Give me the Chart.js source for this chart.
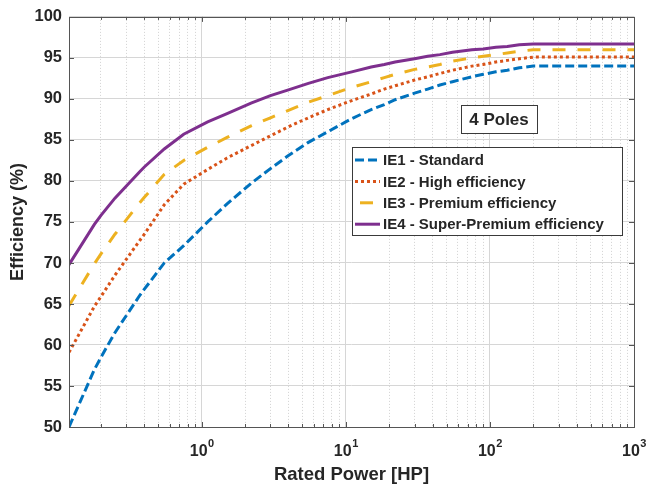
<!DOCTYPE html>
<html>
<head>
<meta charset="utf-8">
<script src="https://cdn.jsdelivr.net/npm/chart.js@4.4.1/dist/chart.umd.min.js"></script>
<style>
  html, body { margin: 0; padding: 0; background: #fff; }
</style>
</head>
<body>
<canvas id="effChart" width="649" height="488"></canvas>
<script>
// Rated power points (HP) and efficiency (%) of each class, 4 poles
const powerHP = [0.12, 0.18, 0.2, 0.25, 0.37, 0.4, 0.55, 0.75, 1.1, 1.5, 2.2, 3, 4, 5.5, 7.5,
                 11, 15, 18.5, 22, 30, 37, 45, 55, 75, 90, 110, 132, 160, 200, 1000];
const ie1 = [50.0, 57.0, 58.5, 61.5, 66.0, 66.8, 70.0, 72.1, 75.0, 77.2, 79.7, 81.5, 83.1, 84.7, 86.0,
             87.6, 88.7, 89.3, 89.9, 90.7, 91.2, 91.7, 92.1, 92.7, 93.0, 93.3, 93.5, 93.8, 94.0, 94.0];
const ie2 = [59.1, 64.7, 65.9, 68.5, 72.7, 73.5, 77.1, 79.6, 81.4, 82.8, 84.3, 85.5, 86.6, 87.7, 88.7,
             89.8, 90.6, 91.2, 91.6, 92.3, 92.7, 93.1, 93.5, 94.0, 94.2, 94.5, 94.7, 94.9, 95.1, 95.1];
const ie3 = [64.8, 69.9, 71.1, 73.5, 77.3, 78.0, 80.8, 82.5, 84.1, 85.3, 86.7, 87.7, 88.6, 89.6, 90.4,
             91.4, 92.1, 92.6, 93.0, 93.6, 93.9, 94.2, 94.6, 95.0, 95.2, 95.4, 95.6, 95.8, 96.0, 96.0];
const ie4 = [69.8, 74.7, 75.8, 77.9, 81.1, 81.7, 83.9, 85.7, 87.2, 88.2, 89.5, 90.4, 91.1, 91.9, 92.6,
             93.3, 93.9, 94.2, 94.5, 94.9, 95.2, 95.4, 95.7, 96.0, 96.1, 96.3, 96.4, 96.6, 96.7, 96.7];
const seriesLabels = ['IE1 - Standard', 'IE2 - High efficiency', 'IE3 - Premium efficiency', 'IE4 - Super-Premium efficiency'];
const decadeTicks = [1, 10, 100, 1000];
const decadeExponents = ['0', '1', '2', '3'];
const boxText = '4 Poles';

const FONT = 'Liberation Sans, Arial, Helvetica, sans-serif';
const TEXT = '#262626';
const colors = ['#0072BD', '#D95319', '#EDB120', '#7E2F8E'];
const dashes = [[9, 4], [3, 3], [13, 12], []];
const legendOffsets = [0, 0, 20, 0];

// log grid positions: 2..9 of each decade plus the decades
const gridValues = [];
[0.1, 1, 10, 100].forEach(d => {
    for (let k = (d === 0.1 ? 2 : 1); k <= 9; k++) gridValues.push(+(k * d).toPrecision(3));
});
gridValues.push(1000);

function toPoints(values) {
    return values.map((v, i) => ({ x: powerHP[i], y: v }));
}

const series = [ie1, ie2, ie3, ie4];
const datasets = series.map((s, i) => ({
    label: seriesLabels[i],
    data: toPoints(s),
    borderColor: colors[i],
    backgroundColor: colors[i],
    borderWidth: 3,
    borderDash: dashes[i],
    pointRadius: 0,
    tension: 0,
    fill: false
}));
// draw IE4 on top, like the original plot order
datasets.reverse();

const framePlugin = {
    id: 'frame',
    afterDraw(chart) {
        const { ctx, chartArea: a, scales: { x, y } } = chart;
        ctx.save();
        // inward ticks on all four sides
        ctx.strokeStyle = '#555';
        ctx.lineWidth = 1;
        ctx.beginPath();
        y.ticks.forEach(t => {
            const py = Math.round(y.getPixelForValue(t.value)) + 0.5;
            ctx.moveTo(a.left, py); ctx.lineTo(a.left + 5, py);
            ctx.moveTo(a.right, py); ctx.lineTo(a.right - 5, py);
        });
        x.ticks.forEach(t => {
            const px = Math.round(x.getPixelForValue(t.value)) + 0.5;
            const len = t.major ? 5 : 3;
            ctx.moveTo(px, a.bottom); ctx.lineTo(px, a.bottom - len);
            ctx.moveTo(px, a.top); ctx.lineTo(px, a.top + len);
        });
        ctx.stroke();
        ctx.strokeRect(Math.round(a.left) + 0.5, Math.round(a.top) + 0.5,
                       Math.round(a.right - a.left), Math.round(a.bottom - a.top));

        // x tick labels 10^n
        ctx.fillStyle = TEXT;
        ctx.textBaseline = 'alphabetic';
        ctx.textAlign = 'left';
        decadeTicks.forEach((v, i) => {
            const px = x.getPixelForValue(v);
            ctx.font = 'bold 16px ' + FONT;
            const w1 = ctx.measureText('10').width;
            ctx.font = 'bold 11px ' + FONT;
            const w2 = ctx.measureText(decadeExponents[i]).width;
            const start = px - (w1 + w2) / 2;
            ctx.font = 'bold 16px ' + FONT;
            ctx.fillText('10', start, 456);
            ctx.font = 'bold 11px ' + FONT;
            ctx.fillText(decadeExponents[i], start + w1 + 0.5, 447);
        });

        // "4 Poles" box
        ctx.fillStyle = '#fff';
        ctx.fillRect(461, 105, 76, 28);
        ctx.strokeStyle = '#3a3a3a';
        ctx.strokeRect(461.5, 105.5, 76, 28);
        ctx.fillStyle = TEXT;
        ctx.font = 'bold 17px ' + FONT;
        ctx.textAlign = 'center';
        ctx.textBaseline = 'middle';
        ctx.fillText(boxText, 499, 120);

        // legend
        ctx.fillStyle = '#fff';
        ctx.fillRect(352, 147, 270, 88);
        ctx.strokeStyle = '#3a3a3a';
        ctx.strokeRect(352.5, 147.5, 270, 88);
        ctx.font = 'bold 15px ' + FONT;
        ctx.textAlign = 'left';
        seriesLabels.forEach((lab, i) => {
            const cy = 160 + i * 21.4;
            ctx.save();
            ctx.strokeStyle = colors[i];
            ctx.lineWidth = 3;
            ctx.setLineDash(dashes[i]);
            ctx.lineDashOffset = legendOffsets[i];
            ctx.beginPath();
            ctx.moveTo(355, cy);
            ctx.lineTo(380, cy);
            ctx.stroke();
            ctx.restore();
            ctx.fillStyle = TEXT;
            ctx.fillText(lab, 383, cy + 1);
        });
        ctx.restore();
    }
};

new Chart(document.getElementById('effChart'), {
    type: 'line',
    data: { datasets: datasets },
    options: {
        responsive: false,
        animation: false,
        layout: { padding: { top: 16, right: 15, left: 0, bottom: 0 } },
        plugins: {
            legend: { display: false },
            tooltip: { enabled: false }
        },
        scales: {
            x: {
                type: 'logarithmic',
                min: 0.12,
                max: 1000,
                afterBuildTicks: (scale) => {
                    scale.ticks = gridValues.map(v => ({ value: v, major: decadeTicks.includes(v) }));
                },
                afterFit: (scale) => { scale.height = 61; },
                ticks: { display: false },
                grid: {
                    drawTicks: false,
                    color: (c) => (c.tick && c.tick.major) ? '#d6d6d6' : '#d2d2d2',
                    lineWidth: 1
                },
                border: {
                    display: false,
                    dash: (c) => (c.tick && !c.tick.major) ? [1, 2] : []
                },
                title: {
                    display: true,
                    text: 'Rated Power [HP]',
                    color: TEXT,
                    padding: 2,
                    font: { family: FONT, size: 18.5, weight: 'bold' }
                }
            },
            y: {
                type: 'linear',
                min: 50,
                max: 100,
                afterFit: (scale) => { scale.width = 69; },
                ticks: {
                    stepSize: 5,
                    padding: 7,
                    color: TEXT,
                    font: { family: FONT, size: 16.5, weight: 'bold' }
                },
                grid: {
                    drawTicks: false,
                    color: '#d6d6d6',
                    lineWidth: 1
                },
                border: { display: false },
                title: {
                    display: true,
                    text: 'Efficiency (%)',
                    color: TEXT,
                    padding: 7,
                    font: { family: FONT, size: 18, weight: 'bold' }
                }
            }
        }
    },
    plugins: [framePlugin]
});
</script>
</body>
</html>
